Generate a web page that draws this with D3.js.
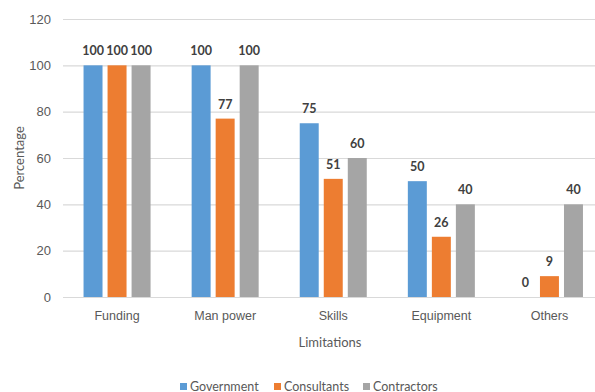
<!DOCTYPE html>
<html>
<head>
<meta charset="utf-8">
<script src="https://cdn.jsdelivr.net/npm/d3@7"></script>
<style>
  html, body { margin: 0; padding: 0; background: #fff; }
  svg { display: block; font-family: Lato, "Open Sans", sans-serif; }
</style>
</head>
<body>
<svg id="chart" width="595" height="392"></svg>
<script>
// Limitations reported by each stakeholder group (percentage)
const categories = ["Funding", "Man power", "Skills", "Equipment", "Others"];
const seriesNames = ["Government", "Consultants", "Contractors"];
const government = [100, 100, 75, 50, 0];
const consultants = [100, 77, 51, 26, 9];
const contractors = [100, 100, 60, 40, 40];
const yTicks = [0, 20, 40, 60, 80, 100, 120];
const colors = ["#5B9BD5", "#ED7D31", "#A5A5A5"];

const seriesValues = [government, consultants, contractors];
const rows = categories.map((c, i) => ({
  category: c,
  values: seriesNames.map((s, j) => ({ series: s, value: seriesValues[j][i] }))
}));

const svg = d3.select("#chart");
const plot = { left: 63, right: 603.5, top: 19, bottom: 297 };

const x0 = d3.scaleBand()
  .domain(categories)
  .range([plot.left, plot.right])
  .paddingInner(0.38)
  .paddingOuter(0.19);

const x1 = d3.scaleBand()
  .domain(seriesNames)
  .range([0, x0.bandwidth()])
  .paddingInner(0.21);

const y = d3.scaleLinear().domain([0, 120]).range([plot.bottom, plot.top]);
const color = d3.scaleOrdinal().domain(seriesNames).range(colors);

// Horizontal gridlines and y tick labels
const yAxis = d3.axisLeft(y).tickValues(yTicks).tickSize(-(plot.right - plot.left)).tickPadding(12);
const gy = svg.append("g").attr("transform", `translate(${plot.left},0)`).call(yAxis);
gy.select(".domain").remove();
gy.selectAll(".tick line").attr("stroke", "#D9D9D9").attr("stroke-width", 1.2);
gy.selectAll(".tick text").attr("fill", "#595959").attr("font-size", 13).attr("x", -12);

// Category axis
const xAxis = d3.axisBottom(x0).tickSize(0).tickPadding(14);
const gx = svg.append("g").attr("transform", `translate(0,${plot.bottom})`).call(xAxis);
gx.select(".domain").remove();
gx.selectAll(".tick text").attr("fill", "#595959").attr("font-size", 12.5);

// Bars
const groups = svg.append("g").selectAll("g")
  .data(rows).join("g")
  .attr("transform", d => `translate(${x0(d.category)},0)`);

groups.selectAll("rect")
  .data(d => d.values).join("rect")
  .attr("x", d => x1(d.series))
  .attr("width", x1.bandwidth())
  .attr("y", d => y(d.value))
  .attr("height", d => y(0) - y(d.value))
  .attr("fill", d => color(d.series));

// Value labels
groups.selectAll("text.val")
  .data(d => d.values).join("text")
  .attr("class", "val")
  .attr("x", d => x1(d.series) + x1.bandwidth() / 2)
  .attr("y", d => y(d.value) - 10)
  .attr("text-anchor", "middle")
  .attr("font-size", 12.5)
  .attr("font-weight", "bold")
  .attr("fill", "#404040")
  .text(d => d.value);

// Axis titles
svg.append("text")
  .attr("x", (plot.left + 595) / 2 + 1)
  .attr("y", 347)
  .attr("text-anchor", "middle")
  .attr("font-size", 13)
  .attr("fill", "#595959")
  .text("Limitations");

svg.append("text")
  .attr("transform", `translate(24,158) rotate(-90)`)
  .attr("text-anchor", "middle")
  .attr("font-size", 13)
  .attr("fill", "#595959")
  .text("Percentage");

// Legend
const legendX = [180, 274, 363];
const legend = svg.append("g").selectAll("g")
  .data(seriesNames).join("g")
  .attr("transform", (d, i) => `translate(${legendX[i]},383)`);
legend.append("rect").attr("width", 7).attr("height", 7).attr("fill", d => color(d));
legend.append("text")
  .attr("x", 10).attr("y", 7.5)
  .attr("font-size", 12.5)
  .attr("fill", "#595959")
  .text(d => d);
</script>
</body>
</html>
